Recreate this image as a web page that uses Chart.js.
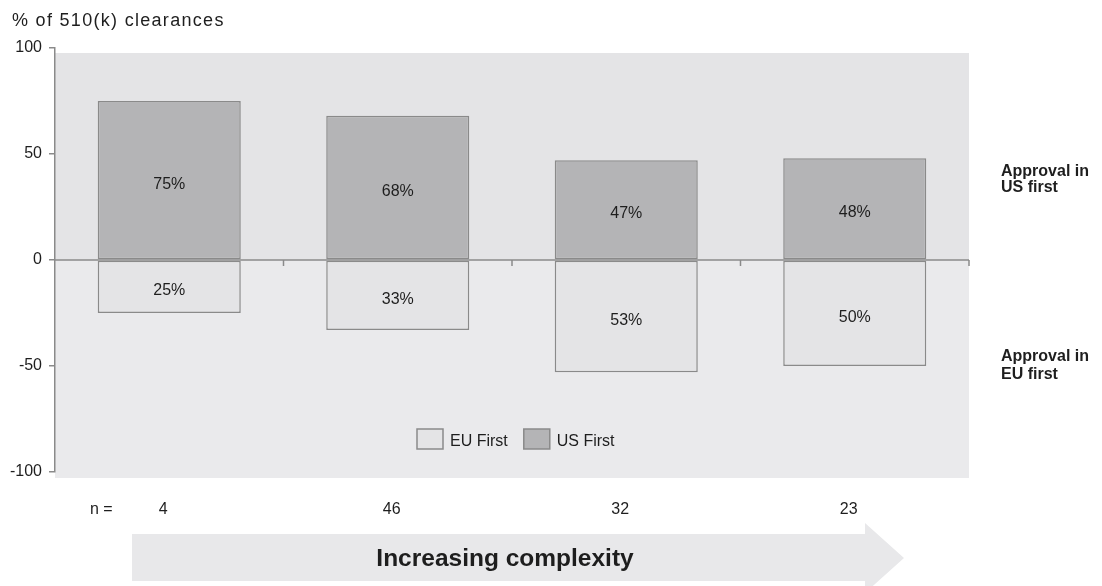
<!DOCTYPE html>
<html>
<head>
<meta charset="utf-8">
<script src="https://cdn.jsdelivr.net/npm/chart.js@4.4.1/dist/chart.umd.min.js"></script>
<style>
  html, body { margin: 0; padding: 0; background: #fff; }
  #wrap { width: 1102px; height: 586px; position: relative; }
</style>
</head>
<body>
<div id="wrap"><canvas id="chart" width="1102" height="586"></canvas></div>
<script>
const categories = ['4', '46', '32', '23'];
const nCounts = [4, 46, 32, 23];
const usFirst = [75, 68, 47, 48];
const euFirst = [25, 33, 53, 50];
const yTicks = [100, 50, 0, -50, -100];

const FONT = '"Liberation Sans", Arial, sans-serif';
const TEXT = '#1e1e1e';
const EDGE = '#8a8a8a';

const ctx = document.getElementById('chart').getContext('2d');

// gray panel behind the bars, a shade darker above zero
const panel = {
  id: 'panel',
  beforeDraw(chart) {
    const { ctx, chartArea: a, scales: { y } } = chart;
    const zero = y.getPixelForValue(0);
    ctx.save();
    ctx.fillStyle = '#e4e4e6';
    ctx.fillRect(a.left, a.top + 5, a.right - a.left, zero - a.top - 5);
    ctx.fillStyle = '#eaeaec';
    ctx.fillRect(a.left, zero, a.right - a.left, a.bottom + 6 - zero);
    ctx.restore();
  }
};

// everything drawn on top: zero line, bar labels, legend, side notes, n row, arrow
const extras = {
  id: 'extras',
  afterDatasetsDraw(chart) {
    const { ctx, chartArea: a, scales: { x, y } } = chart;
    const zero = y.getPixelForValue(0);
    ctx.save();

    // zero line with category ticks
    ctx.strokeStyle = EDGE;
    ctx.lineWidth = 1.5;
    ctx.beginPath();
    ctx.moveTo(a.left, zero);
    ctx.lineTo(a.right, zero);
    const step = (a.right - a.left) / categories.length;
    for (let i = 1; i <= categories.length; i++) {
      const tx = a.left + i * step;
      ctx.moveTo(tx, zero);
      ctx.lineTo(tx, zero + 6);
    }
    ctx.stroke();

    // percentage labels centred in each bar
    ctx.fillStyle = TEXT;
    ctx.font = '16px ' + FONT;
    ctx.textAlign = 'center';
    ctx.textBaseline = 'middle';
    chart.data.datasets.forEach((ds, di) => {
      chart.getDatasetMeta(di).data.forEach((el, i) => {
        const v = Math.abs(ds.data[i]);
        ctx.fillText(v + '%', el.x, (el.y + el.base) / 2 + 4);
      });
    });

    // legend inside the panel
    const items = chart.data.datasets.map(ds => ({ label: ds.label, fill: ds.backgroundColor }));
    let lx = 417;
    const ly = 429;
    ctx.textAlign = 'left';
    ctx.textBaseline = 'alphabetic';
    items.forEach(it => {
      ctx.fillStyle = it.fill;
      ctx.fillRect(lx, ly, 26, 20);
      ctx.strokeStyle = EDGE;
      ctx.lineWidth = 1.5;
      ctx.strokeRect(lx, ly, 26, 20);
      ctx.fillStyle = TEXT;
      ctx.fillText(it.label, lx + 33, ly + 17);
      lx += 33 + ctx.measureText(it.label).width + 16;
    });

    // title
    ctx.font = '18px ' + FONT;
    ctx.letterSpacing = '1.3px';
    ctx.fillText('% of 510(k) clearances', 12, 26);
    ctx.letterSpacing = '0px';

    // side notes
    ctx.font = 'bold 16px ' + FONT;
    ctx.fillText('Approval in', 1001, 176);
    ctx.fillText('US first', 1001, 192);
    ctx.fillText('Approval in', 1001, 361);
    ctx.fillText('EU first', 1001, 379);

    // n row
    ctx.font = '16px ' + FONT;
    ctx.fillText('n =', 90, 514);
    ctx.textAlign = 'center';
    nCounts.forEach((n, i) => {
      ctx.fillText(String(n), x.getPixelForValue(i) - 6, 514);
    });

    // complexity arrow
    ctx.fillStyle = '#e8e8ea';
    ctx.beginPath();
    ctx.moveTo(132, 534);
    ctx.lineTo(865, 534);
    ctx.lineTo(865, 523);
    ctx.lineTo(904, 558);
    ctx.lineTo(865, 593);
    ctx.lineTo(865, 581);
    ctx.lineTo(132, 581);
    ctx.closePath();
    ctx.fill();
    ctx.fillStyle = TEXT;
    ctx.font = 'bold 24.5px ' + FONT;
    ctx.fillText('Increasing complexity', 505, 566);

    ctx.restore();
  }
};

new Chart(ctx, {
  type: 'bar',
  data: {
    labels: categories,
    datasets: [
      {
        label: 'EU First',
        data: euFirst.map(v => -v),
        backgroundColor: '#e4e4e6',
        borderColor: EDGE,
        borderWidth: 1.5,
        borderSkipped: false,
      },
      {
        label: 'US First',
        data: usFirst,
        backgroundColor: '#b4b4b6',
        borderColor: EDGE,
        borderWidth: 1.5,
        borderSkipped: false,
      },
    ],
  },
  options: {
    responsive: false,
    animation: false,
    events: [],
    layout: { padding: { top: 48, right: 133, bottom: 114, left: 0 } },
    datasets: { bar: { categoryPercentage: 1, barPercentage: 0.626 } },
    plugins: { legend: { display: false }, tooltip: { enabled: false } },
    scales: {
      x: { stacked: true, display: false },
      y: {
        stacked: true,
        min: -100,
        max: 100,
        afterFit(scale) { scale.width = 55; },
        afterBuildTicks(scale) { scale.ticks = yTicks.map(v => ({ value: v })); },
        ticks: { color: TEXT, font: { family: FONT, size: 16 }, padding: 7 },
        grid: { drawOnChartArea: false, tickLength: 6, color: EDGE, lineWidth: 1.5 },
        border: { color: EDGE, width: 1.5 },
      },
    },
  },
  plugins: [panel, extras],
});
</script>
</body>
</html>
